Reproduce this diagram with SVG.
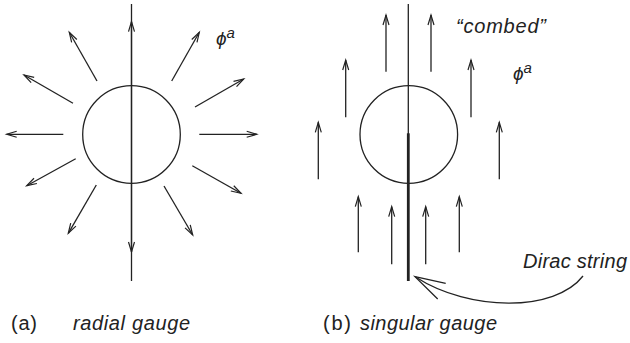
<svg xmlns="http://www.w3.org/2000/svg" width="630" height="343" viewBox="0 0 630 343">
<defs>
<marker id="ah" markerUnits="userSpaceOnUse" markerWidth="14" markerHeight="10" viewBox="-12 -5 14 10" refX="0" refY="0" orient="auto" overflow="visible">
<path d="M-10,-3 L0,0 L-10,3" fill="none" stroke="#222" stroke-width="1.2" stroke-linejoin="miter"/>
</marker>
<style>
.ln{stroke:#222;stroke-width:1.3;fill:none}
.ar{stroke:#222;stroke-width:1.3;fill:none;marker-end:url(#ah)}
.t{font-family:"Liberation Sans","DejaVu Sans",Arial,sans-serif;fill:#222}
.i{font-style:italic}
</style>
</defs>
<rect width="630" height="343" fill="#fff"/>
<g id="panel-a">
<g id="monopole-a">
<circle cx="131.5" cy="134.5" r="48.8" class="ln"/>
</g>
<g id="connectors-a">
<line x1="131.5" y1="4" x2="131.5" y2="281" class="ln"/>
<line x1="131.5" y1="134" x2="131.5" y2="21.7" class="ar"/>
<line x1="131.5" y1="134" x2="131.5" y2="252" class="ar"/>
<line x1="199.3" y1="134.3" x2="256.7" y2="134.3" class="ar"/>
<line x1="63.3" y1="134.3" x2="6.7" y2="134.3" class="ar"/>
<line x1="195" y1="107" x2="243.7" y2="79" class="ar"/>
<line x1="171.7" y1="81" x2="199.3" y2="32.3" class="ar"/>
<line x1="97" y1="81" x2="69.3" y2="32.3" class="ar"/>
<line x1="73" y1="103.3" x2="24" y2="75" class="ar"/>
<line x1="75.7" y1="158.7" x2="26.7" y2="185.7" class="ar"/>
<line x1="96.3" y1="185" x2="68.3" y2="233.3" class="ar"/>
<line x1="164" y1="186" x2="192.7" y2="235" class="ar"/>
<line x1="192.3" y1="165.7" x2="241" y2="193.3" class="ar"/>
</g>
<g id="label-phi-a">
<text class="t i" x="216" y="45" font-size="19">ϕ<tspan font-size="15" dy="-7">a</tspan></text>
</g>
<g id="caption-a">
<text class="t" x="11" y="330" font-size="20" textLength="26" lengthAdjust="spacing">(a)</text>
<text class="t i" x="73" y="330" font-size="20" textLength="117" lengthAdjust="spacing">radial gauge</text>
</g>
</g>
<g id="panel-b">
<g id="monopole-b">
<circle cx="408.8" cy="134.5" r="48.8" class="ln"/>
</g>
<g id="connectors-b">
<line x1="408.3" y1="4" x2="408.3" y2="134" class="ln"/>
<line x1="408.3" y1="133.3" x2="408.3" y2="281" stroke="#222" stroke-width="2.8"/>
<line x1="386" y1="71.7" x2="386" y2="15" class="ar"/>
<line x1="431" y1="71.7" x2="431" y2="15" class="ar"/>
<line x1="345.7" y1="117.3" x2="345.7" y2="60" class="ar"/>
<line x1="471" y1="117.3" x2="471" y2="60" class="ar"/>
<line x1="318.3" y1="179.3" x2="318.3" y2="122.3" class="ar"/>
<line x1="499.3" y1="179.3" x2="499.3" y2="122.3" class="ar"/>
<line x1="358.3" y1="252.3" x2="358.3" y2="196.7" class="ar"/>
<line x1="459.3" y1="252.3" x2="459.3" y2="196.7" class="ar"/>
<line x1="391.7" y1="264.3" x2="391.7" y2="206.7" class="ar"/>
<line x1="425.7" y1="264.3" x2="425.7" y2="206.7" class="ar"/>
<path d="M583,276 C555,312 470,312 415.5,277" class="ln"/>
<path d="M445.7,283.3 L415,276.7 L437.7,299" class="ln"/>
</g>
<g id="label-combed">
<text class="t i" x="456" y="33" font-size="20" textLength="90" lengthAdjust="spacing">“combed”</text>
</g>
<g id="label-phi-b">
<text class="t i" x="513" y="80" font-size="19">ϕ<tspan font-size="15" dy="-7">a</tspan></text>
</g>
<g id="label-dirac">
<text class="t i" x="523" y="268" font-size="20" textLength="104" lengthAdjust="spacing">Dirac string</text>
</g>
<g id="caption-b">
<text class="t" x="323" y="330" font-size="20" textLength="28" lengthAdjust="spacing">(b)</text>
<text class="t i" x="360" y="330" font-size="20" textLength="137" lengthAdjust="spacing">singular gauge</text>
</g>
</g>
</svg>
